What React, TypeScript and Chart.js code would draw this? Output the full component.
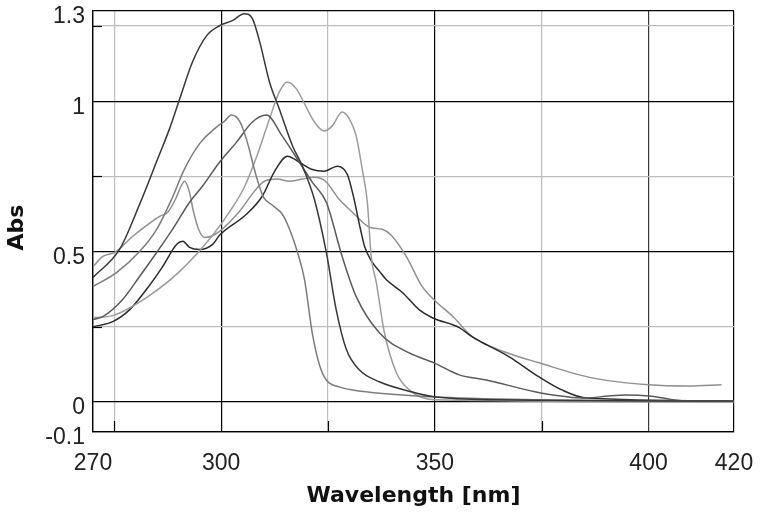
import React, { useEffect, useRef } from "react";
import { Chart, registerables } from "chart.js";

Chart.register(...registerables);

// ---- Data ----
const wavelength1 = [270.0, 276.2, 280.9, 285.1, 287.9, 290.3, 293.3, 296.6, 299.6, 302.6, 305.4, 307.3, 309.0, 311.3, 313.6, 316.7, 319.0, 321.8, 324.6, 326.9, 329.3, 332.3, 337.0, 344.7, 349.8, 365.0, 420.0];
const absorbance1 = [0.414, 0.507, 0.657, 0.807, 0.908, 1.008, 1.131, 1.218, 1.251, 1.268, 1.291, 1.275, 1.198, 1.064, 0.974, 0.851, 0.784, 0.674, 0.497, 0.307, 0.174, 0.107, 0.067, 0.033, 0.017, 0.007, 0.003];

const wavelength2 = [270.0, 275.5, 280.9, 284.9, 288.4, 291.4, 294.9, 298.4, 300.8, 302.4, 304.3, 305.9, 308.2, 309.9, 312.0, 314.3, 316.0, 317.8, 319.5, 321.3, 323.0, 324.6, 327.6, 330.7, 349.4, 374.4, 420.0];
const absorbance2 = [0.384, 0.430, 0.500, 0.574, 0.674, 0.774, 0.858, 0.908, 0.934, 0.954, 0.934, 0.874, 0.751, 0.681, 0.654, 0.624, 0.574, 0.500, 0.407, 0.230, 0.123, 0.073, 0.050, 0.040, 0.017, 0.007, 0.003];

const wavelength3 = [270.0, 272.3, 276.9, 280.9, 284.9, 288.6, 292.6, 295.6, 299.6, 303.6, 307.3, 310.6, 314.3, 318.3, 321.3, 324.6, 328.3, 331.6, 337.0, 344.0, 349.8, 355.7, 362.0, 374.8, 385.4, 390.7, 394.7, 400.1, 408.7, 420.0];
const absorbance3 = [0.274, 0.284, 0.340, 0.417, 0.497, 0.574, 0.664, 0.717, 0.797, 0.864, 0.931, 0.954, 0.884, 0.797, 0.731, 0.664, 0.484, 0.350, 0.230, 0.163, 0.130, 0.090, 0.073, 0.030, 0.013, 0.020, 0.023, 0.020, 0.003, 0.003];

const wavelength4 = [270.0, 274.6, 282.5, 290.3, 298.0, 301.9, 305.4, 308.5, 311.3, 313.6, 315.5, 317.6, 319.5, 321.8, 324.1, 326.0, 328.3, 330.0, 331.6, 333.0, 334.2, 335.1, 336.3, 338.2, 341.0, 344.0, 349.8, 420.0];
const absorbance4 = [0.280, 0.287, 0.347, 0.434, 0.554, 0.631, 0.714, 0.824, 0.941, 1.031, 1.064, 1.041, 0.991, 0.931, 0.901, 0.918, 0.964, 0.941, 0.884, 0.774, 0.664, 0.484, 0.397, 0.230, 0.097, 0.040, 0.007, 0.0];

const wavelength5 = [270.0, 274.6, 278.6, 282.5, 286.3, 289.6, 291.0, 292.6, 294.9, 298.0, 299.6, 305.9, 309.6, 312.5, 315.5, 318.3, 321.1, 324.1, 327.2, 329.5, 331.0, 332.5, 333.6, 335.1, 337.0, 338.6, 342.4, 346.3, 349.4, 355.7, 358.7, 367.4, 374.4, 379.7, 385.4, 420.0];
const absorbance5 = [0.250, 0.267, 0.307, 0.374, 0.450, 0.524, 0.534, 0.514, 0.507, 0.524, 0.554, 0.624, 0.684, 0.767, 0.817, 0.797, 0.774, 0.767, 0.784, 0.757, 0.680, 0.580, 0.515, 0.470, 0.435, 0.407, 0.364, 0.307, 0.280, 0.247, 0.217, 0.150, 0.083, 0.040, 0.013, 0.003];

const wavelength6 = [270.0, 272.3, 275.1, 279.3, 283.2, 285.6, 287.5, 289.3, 290.5, 291.4, 292.4, 293.5, 294.7, 296.1, 297.7, 299.6, 304.3, 307.8, 310.1, 313.2, 316.0, 319.0, 321.8, 324.4, 327.6, 330.7, 334.7, 337.7, 339.8, 343.3, 347.0, 349.8, 354.5, 358.7, 366.2, 374.4, 386.8, 400.1, 409.4, 417.1];
const absorbance6 = [0.450, 0.484, 0.497, 0.551, 0.594, 0.617, 0.631, 0.674, 0.714, 0.734, 0.707, 0.634, 0.574, 0.547, 0.551, 0.567, 0.634, 0.701, 0.734, 0.741, 0.734, 0.741, 0.747, 0.734, 0.674, 0.631, 0.581, 0.574, 0.554, 0.484, 0.384, 0.340, 0.280, 0.217, 0.167, 0.130, 0.080, 0.057, 0.053, 0.057];

const seriesColors = ["#383838", "#7c7c7c", "#5a5a5a", "#9c9c9c", "#2c2c2c", "#909090"];

const xTickValues = [270, 275, 300, 325, 350, 375, 400, 420];
const xTickLabels = ["270", "", "300", "", "350", "", "400", "420"];
const yTickValues = [-0.1, 0, 0.25, 0.5, 0.75, 1, 1.25, 1.3];
const yTickLabels = ["-0.1", "0", "", "0.5", "", "1", "", "1.3"];
const xMinorTicks = [275, 325, 375];
const yMinorTicks = [0.25, 0.75, 1.25];

const xTitle = "Wavelength [nm]";
const yTitle = "Abs";

const FONT = "'Liberation Sans', Arial, Helvetica, sans-serif";
const TITLE_FONT = "'DejaVu Sans', 'Liberation Sans', Arial, sans-serif";

function gridColorX(v: number) {
  if (v === 400) return "#3a3a3a";
  if (v === 275 || v === 325 || v === 375) return "#bdbdbd";
  return "#000000";
}
function gridColorY(v: number) {
  if (Math.abs(v - 0.25) < 1e-6 || Math.abs(v - 0.75) < 1e-6 || Math.abs(v - 1.25) < 1e-6) return "#bdbdbd";
  return "#000000";
}

const innerTicks = {
  id: "innerTicks",
  beforeDatasetsDraw(chart: any) {
    const { ctx, chartArea, scales } = chart;
    ctx.save();
    ctx.strokeStyle = "#000";
    ctx.lineWidth = 1.2;
    for (const v of xMinorTicks) {
      const px = Math.round(scales.x.getPixelForValue(v)) + 0.5;
      ctx.beginPath();
      ctx.moveTo(px, chartArea.bottom);
      ctx.lineTo(px, chartArea.bottom - 11);
      ctx.stroke();
    }
    for (const v of yMinorTicks) {
      const py = Math.round(scales.y.getPixelForValue(v)) + 0.5;
      ctx.beginPath();
      ctx.moveTo(chartArea.left, py);
      ctx.lineTo(chartArea.left + 9, py);
      ctx.stroke();
    }
    ctx.restore();
  },
};

// y-axis title, placed a little below the plot's centre as in the reference
const yTitlePlugin = {
  id: "yTitlePlugin",
  afterDraw(chart: any) {
    const { ctx, chartArea } = chart;
    ctx.save();
    ctx.translate(17, (chartArea.top + chartArea.bottom) / 2 + 6);
    ctx.rotate(-Math.PI / 2);
    ctx.fillStyle = "#111";
    ctx.font = "bold 22px " + TITLE_FONT;
    ctx.textAlign = "center";
    ctx.textBaseline = "middle";
    ctx.fillText(yTitle, 0, 0);
    ctx.restore();
  },
};

export default function App() {
  const canvasRef = useRef<HTMLCanvasElement | null>(null);

  useEffect(() => {
    const canvas = canvasRef.current;
    if (!canvas) return;
    const wls = [wavelength1, wavelength2, wavelength3, wavelength4, wavelength5, wavelength6];
    const abs = [absorbance1, absorbance2, absorbance3, absorbance4, absorbance5, absorbance6];
    const datasets = wls.map((wl, k) => ({
      label: "S" + (k + 1),
      data: wl.map((x, i) => ({ x, y: abs[k][i] })),
      borderColor: seriesColors[k],
      borderWidth: 1.5,
      pointRadius: 0,
      fill: false,
      cubicInterpolationMode: "monotone" as const,
    }));

    const chart = new Chart(canvas, {
      type: "line",
      data: { datasets },
      plugins: [innerTicks, yTitlePlugin],
      options: {
        animation: false,
        responsive: false,
        devicePixelRatio: 1,
        layout: { padding: { top: 11, right: 26, bottom: 0, left: 0 } },
        plugins: { legend: { display: false }, tooltip: { enabled: false } },
        scales: {
          x: {
            type: "linear",
            min: 270,
            max: 420,
            afterBuildTicks: (s: any) => {
              s.ticks = xTickValues.map((v) => ({ value: v }));
            },
            afterFit: (s: any) => {
              s.height = 80;
              s.paddingLeft = 0;
              s.paddingRight = 0;
            },
            grid: {
              drawTicks: false,
              lineWidth: 1.2,
              color: (c: any) => gridColorX(c.tick ? c.tick.value : 0),
            },
            border: { display: true, color: "#000", width: 1.3 },
            ticks: {
              autoSkip: false,
              maxRotation: 0,
              padding: 18,
              color: "#222",
              font: { family: FONT, size: 23 },
              callback: (v: any) => {
                const i = xTickValues.indexOf(Number(v));
                return i >= 0 ? xTickLabels[i] : "";
              },
            },
            title: {
              display: true,
              text: xTitle,
              color: "#111",
              font: { family: TITLE_FONT, size: 22, weight: "bold" },
              padding: { top: 0, bottom: 3 },
            },
          },
          y: {
            type: "linear",
            min: -0.1,
            max: 1.3,
            afterBuildTicks: (s: any) => {
              s.ticks = yTickValues.map((v) => ({ value: v }));
            },
            afterFit: (s: any) => {
              s.width = 93;
              s.paddingTop = 0;
              s.paddingBottom = 0;
            },
            grid: {
              drawTicks: false,
              lineWidth: 1.2,
              color: (c: any) => gridColorY(c.tick ? c.tick.value : 0),
            },
            border: { display: true, color: "#000", width: 1.3 },
            ticks: {
              autoSkip: false,
              padding: 8,
              labelOffset: 6,
              color: "#222",
              font: { family: FONT, size: 23 },
              callback: (v: any) => {
                const i = yTickValues.findIndex((t) => Math.abs(t - Number(v)) < 1e-6);
                return i >= 0 ? yTickLabels[i] : "";
              },
            },
            title: { display: false },
          },
        },
      },
    });
    return () => chart.destroy();
  }, []);

  return (
    <div style={{ position: "fixed", left: 0, top: 0, width: 760, height: 512, background: "#fff" }}>
      <canvas ref={canvasRef} width={760} height={512} />
    </div>
  );
}
